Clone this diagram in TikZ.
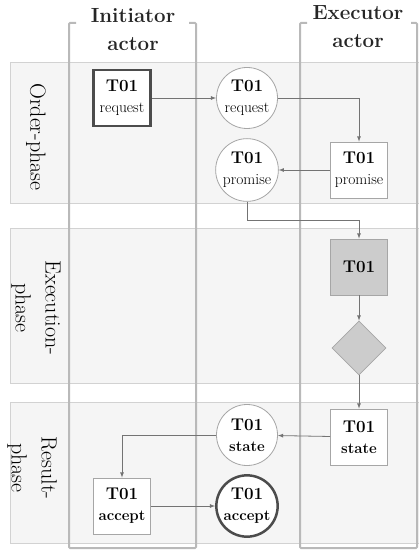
\documentclass[tikz,border=0pt]{standalone}
\usetikzlibrary{shapes,shapes.geometric,arrows,positioning}

\newcommand{\tnum}{{\fontsize{17}{19}\selectfont\bfseries T01}}

\begin{document}
\begin{tikzpicture}[x=1pt, y=-1pt,
    every node/.style={inner sep=1pt},
    phase/.style={draw=gray!35, fill=gray!8, line width=0.8pt},
    lane/.style={draw=gray!55, line width=2pt, rounded corners=1pt},
    head/.style={font=\fontsize{20.5}{28}\selectfont\bfseries, align=center, text=black!85},
    phaselabel/.style={font=\fontsize{22}{30}\selectfont, align=center, rotate=-90, text=black},
    actbox/.style={draw=gray!70, fill=white, rectangle, line width=0.8pt, minimum width=57pt,
          minimum height=56pt, align=center, font=\fontsize{15.5}{21}\selectfont},
    factbox/.style={draw=gray!70, fill=white, circle, line width=0.8pt, minimum size=61pt,
          align=center, font=\fontsize{15.5}{21}\selectfont},
    initbox/.style={actbox, draw=black!70, line width=2.5pt},
    initcirc/.style={factbox, draw=black!70, line width=2.5pt},
    resfont/.style={font=\fontsize{15}{21}\selectfont\bfseries},
    arr/.style={-latex, draw=black!55, line width=0.8pt}]
    \useasboundingbox (0,0) rectangle (419,553);

    % Phase bands
    \draw[phase] (10,62) rectangle (419,203);
    \draw[phase] (10,228) rectangle (419,383);
    \draw[phase] (10,402) rectangle (419,543);

    % Actor lanes
    \draw[lane] (76,23) -- (69,23) -- (69,548) -- (196,548) -- (196,23) -- (189,23);
    \draw[lane] (307,23) -- (300,23) -- (300,548) -- (417,548) -- (417,23) -- (411,23);

    % Lane and phase labels
    \node[head] (inithead) at (133,30) {Initiator\\actor};
    \node[head] (exechead) at (358,27) {Executor\\actor};
    \node[phaselabel] (orderlbl) at (36,137) {Order-phase};
    \node[phaselabel] (execlbl) at (36,308) {Execution-\\phase};
    \node[phaselabel] (resultlbl) at (32,468) {Result-\\phase};

    % Order phase
    \node[initbox] (req1) at (122,98) {\tnum\\request};
    \node[factbox] (req2) at (247,98) {\tnum\\request};
    \node[actbox] (prom1) at (359,170) {\tnum\\promise};
    \node[factbox] (prom2) at (247,170) {\tnum\\promise};

    % Execution phase
    \node[actbox, fill=gray!40] (exec) at (359,267) {\tnum};
    \node[diamond, draw=gray!70, fill=gray!40, line width=0.8pt, minimum size=54pt] (dec) at (359,348) {};

    % Result phase
    \node[actbox, resfont] (st1) at (359,437) {\tnum\\state};
    \node[factbox, resfont] (st2) at (247,435) {\tnum\\state};
    \node[actbox, resfont] (acc1) at (122,506) {\tnum\\accept};
    \node[initcirc, resfont] (acc2) at (247,506) {\tnum\\accept};

    % Arrows
    \coordinate (bend1) at (247,220);
    \draw[arr] (req1) -- (req2);
    \draw[arr] (req2) -| (prom1);
    \draw[arr] (prom1) -- (prom2);
    \draw[arr] (prom2) -- (bend1) -| (exec);
    \draw[arr] (exec) -- (dec);
    \draw[arr] (dec) -- (st1);
    \draw[arr] (st1) -- (st2);
    \draw[arr] (st2) -| (acc1);
    \draw[arr] (acc1) -- (acc2);
\end{tikzpicture}
\end{document}
